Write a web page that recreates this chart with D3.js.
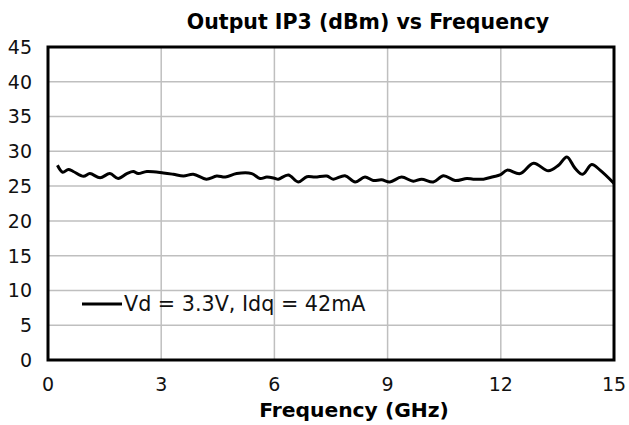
<!DOCTYPE html>
<html><head><meta charset="utf-8">
<script src="https://cdn.jsdelivr.net/npm/d3@7"></script>
<style>body{margin:0;background:#fff}svg{display:block}text{font-family:"DejaVu Sans",sans-serif}</style>
</head><body>
<svg id="c" width="629" height="425"></svg>
<script>
const freq = [0.25,0.39,0.54,0.67,0.94,1.11,1.38,1.64,1.86,2.09,2.26,2.39,2.62,3.06,3.32,3.59,3.85,4.2,4.47,4.7,5.0,5.4,5.62,5.8,6.02,6.1,6.37,6.63,6.86,7.08,7.39,7.56,7.87,8.14,8.4,8.62,8.84,9.06,9.37,9.68,9.9,10.21,10.48,10.79,11.1,11.27,11.54,11.8,11.98,12.17,12.51,12.87,13.26,13.53,13.75,13.97,14.17,14.41,14.63,15.0];
const oip3 = [28.0,27.0,27.4,27.1,26.4,26.8,26.2,26.8,26.1,26.8,27.1,26.8,27.1,26.9,26.7,26.45,26.7,26.0,26.45,26.3,26.8,26.8,26.1,26.3,26.1,26.0,26.6,25.6,26.35,26.3,26.45,26.0,26.5,25.6,26.3,25.8,25.9,25.6,26.3,25.7,26.0,25.6,26.5,25.8,26.1,26.0,26.0,26.35,26.6,27.3,26.8,28.3,27.2,28.0,29.2,27.55,26.7,28.1,27.3,25.4];
const xTicks = [0,3,6,9,12,15];
const yTicks = [0,5,10,15,20,25,30,35,40,45];
const seriesName = "Vd = 3.3V, Idq = 42mA";
const title = "Output IP3 (dBm) vs Frequency";
const xTitle = "Frequency (GHz)";

const svg = d3.select("#c");
const L=48,R=614,T=47,B=360;
const x = d3.scaleLinear().domain([0,15]).range([L,R]);
const y = d3.scaleLinear().domain([0,45]).range([B,T]);

svg.append("g").selectAll("line.h").data(yTicks).join("line")
  .attr("x1",L).attr("x2",R).attr("y1",d=>y(d)).attr("y2",d=>y(d))
  .attr("stroke","#bfbfbf").attr("stroke-width",1.5);
svg.append("g").selectAll("line.v").data(xTicks).join("line")
  .attr("y1",T).attr("y2",B).attr("x1",d=>x(d)).attr("x2",d=>x(d))
  .attr("stroke","#bfbfbf").attr("stroke-width",1.5);

const data = freq.map((f,i)=>({f,v:oip3[i]}));
svg.append("path").datum(data)
  .attr("fill","none").attr("stroke","#000").attr("stroke-width",3).attr("stroke-linejoin","round")
  .attr("d", d3.line().x(d=>x(d.f)).y(d=>y(d.v)).curve(d3.curveCatmullRom.alpha(0.5)));

svg.append("rect").attr("x",L).attr("y",T).attr("width",R-L).attr("height",B-T)
  .attr("fill","none").attr("stroke","#000").attr("stroke-width",3);

svg.append("g").selectAll("text").data(yTicks).join("text")
  .attr("x",32).attr("y",d=>y(d)).attr("dy","0.36em").attr("text-anchor","end")
  .attr("font-size",19).attr("fill","#111").text(d=>d);
svg.append("g").selectAll("text").data(xTicks).join("text")
  .attr("x",d=>x(d)).attr("y",384).attr("dy","0.36em").attr("text-anchor","middle")
  .attr("font-size",19).attr("fill","#111").text(d=>d);

svg.append("text").attr("x",368).attr("y",22).attr("dy","0.36em").attr("text-anchor","middle")
  .attr("font-size",20.5).attr("font-weight","bold").text(title);
svg.append("text").attr("x",354).attr("y",410).attr("dy","0.36em").attr("text-anchor","middle")
  .attr("font-size",20.3).attr("font-weight","bold").text(xTitle);

svg.append("line").attr("x1",82).attr("x2",122).attr("y1",304).attr("y2",304)
  .attr("stroke","#000").attr("stroke-width",3);
svg.append("text").attr("x",124).attr("y",304).attr("dy","0.36em")
  .attr("font-size",20.7).attr("fill","#111").text(seriesName);
</script>
</body></html>
